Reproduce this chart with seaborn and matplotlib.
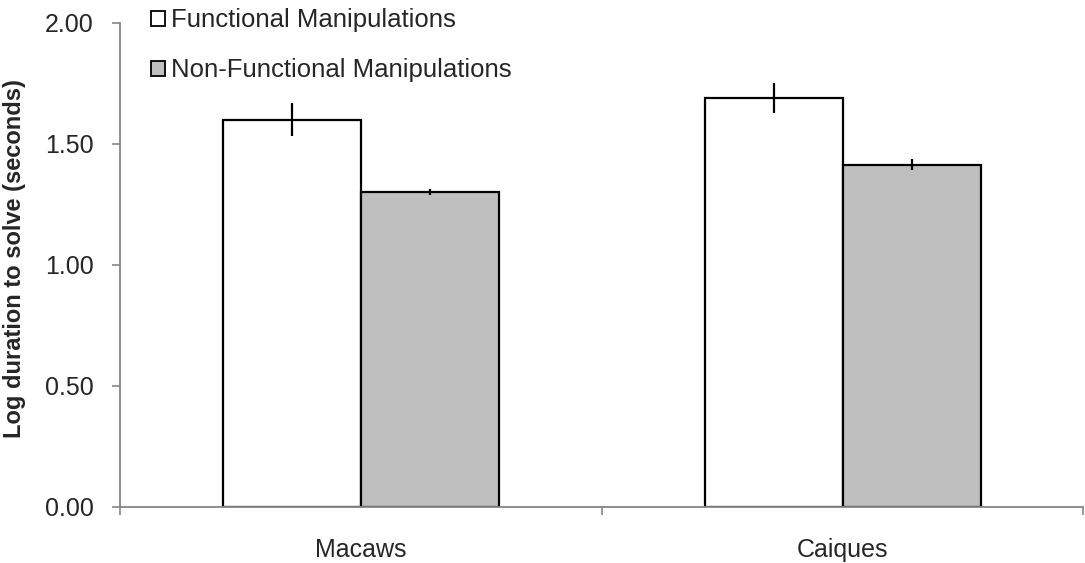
import pandas as pd
import numpy as np
import seaborn as sns
import matplotlib.pyplot as plt

# Datos
species = ["Macaws", "Caiques"]
conditions = ["Functional Manipulations", "Non-Functional Manipulations"]
functional = [1.60, 1.69]
functional_err = [0.068, 0.063]
non_functional = [1.30, 1.415]
non_functional_err = [0.012, 0.022]

df = pd.DataFrame({
    "Species": species * 2,
    "Condition": [conditions[0]] * 2 + [conditions[1]] * 2,
    "Value": functional + non_functional,
    "Err": functional_err + non_functional_err,
})

sns.set_style("white")
plt.rcParams["font.family"] = ["Liberation Sans", "DejaVu Sans"]

fig = plt.figure(figsize=(10.85, 5.63), dpi=100)
ax = fig.add_axes([0.1106, 0.0995, 0.888, 0.8597])

sns.barplot(data=df, x="Species", y="Value", hue="Condition", order=species,
            hue_order=conditions, palette=["white", "#bfbfbf"], width=0.573,
            edgecolor="black", linewidth=1.6, errorbar=None, ax=ax)

# barras de error en el centro de cada barra
for cont, cond in zip(ax.containers, conditions):
    sub = df[df["Condition"] == cond].set_index("Species").loc[species]
    xs = [p.get_x() + p.get_width() / 2 for p in cont.patches]
    ax.errorbar(xs, sub["Value"], yerr=sub["Err"], fmt="none", ecolor="black",
                elinewidth=1.6, capsize=0, zorder=5)

ax.set_ylim(0, 2.0)
ax.set_xlim(-0.5, 1.5)
ax.set_yticks(np.arange(0, 2.01, 0.5))
ax.set_yticklabels([f"{v:.2f}" for v in np.arange(0, 2.01, 0.5)], fontsize=18)
ax.set_xticks([0, 1])
ax.set_xticklabels(species, fontsize=18)
ax.tick_params(axis="x", length=0, pad=22)
ax.tick_params(axis="y", length=6, width=1.2, color="#868686", direction="out", left=True, pad=13)

# marcas entre categorias en el eje x
ax.set_xticks([-0.5, 0.5, 1.5], minor=True)
ax.tick_params(axis="x", which="minor", length=6, width=1.2, color="#868686", direction="out", bottom=True)

for s in ["top", "right"]:
    ax.spines[s].set_visible(False)
for s in ["left", "bottom"]:
    ax.spines[s].set_color("#868686")
    ax.spines[s].set_linewidth(1.3)

ax.set_xlabel("")
ax.set_ylabel("Log duration to solve (seconds)", fontsize=17, fontweight="bold")
ax.yaxis.set_label_coords(-0.098, 0.513)

handles, labels = ax.get_legend_handles_labels()
for h in handles:
    h.set_linewidth(1.3)
ax.legend(handles, labels, loc="upper left", bbox_to_anchor=(0.139, 0.985),
          bbox_transform=fig.transFigure, frameon=False, fontsize=18.5,
          handlelength=0.55, handleheight=0.52, handletextpad=0.25,
          labelspacing=1.0, borderpad=0, borderaxespad=0)

plt.savefig("out.png", dpi=100)
